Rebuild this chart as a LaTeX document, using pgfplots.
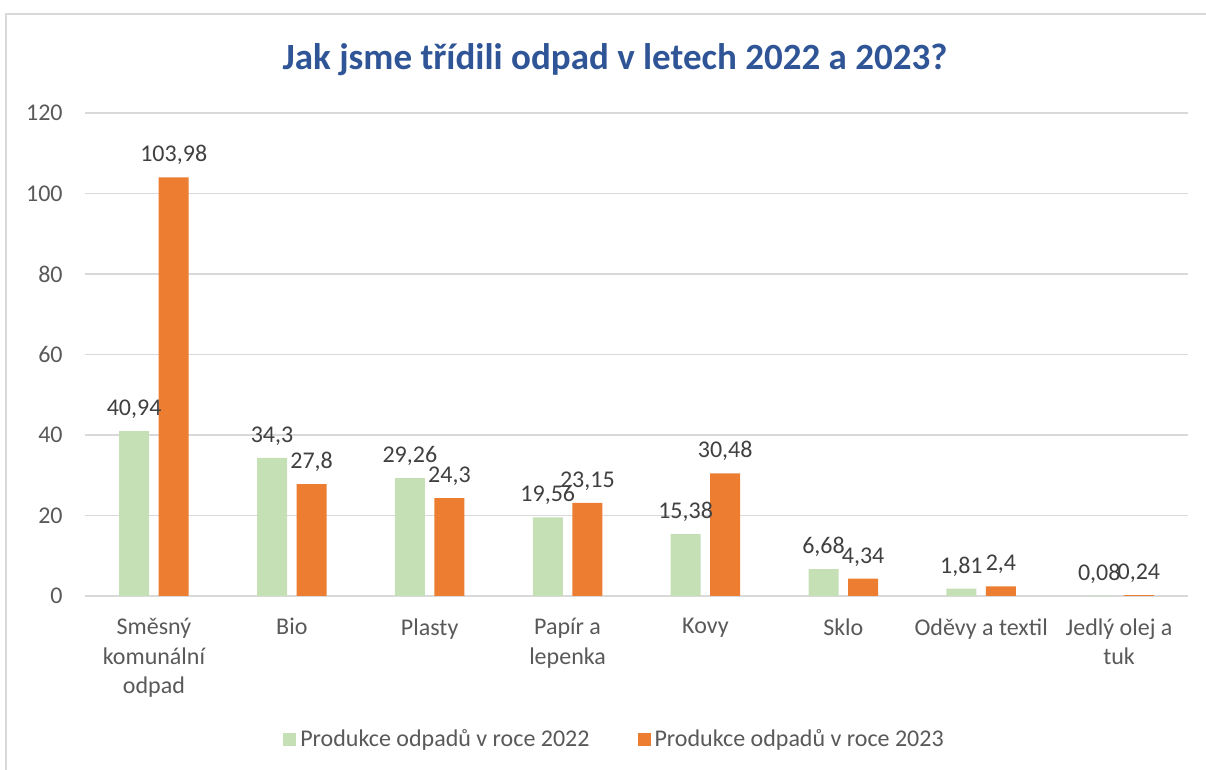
\documentclass[border=0pt]{standalone}
\usepackage{pgfplots}
\pgfplotsset{compat=1.18}
\usepackage{fontspec}
\setmainfont{Carlito}
\definecolor{cgreen}{HTML}{C5E0B4}
\definecolor{corange}{HTML}{ED7D31}
\definecolor{ctitle}{HTML}{2F5597}
\definecolor{cgrid}{HTML}{D9D9D9}
\definecolor{ctext}{HTML}{595959}
\definecolor{clabel}{HTML}{404040}
\begin{document}
\begin{tikzpicture}
\useasboundingbox (0,0) rectangle (603pt,385pt);
\draw[cgrid, line width=1pt] (3pt,0) -- (3pt,378pt) -- (603pt,378pt);
\node[font=\fontsize{18.5}{22}\selectfont\bfseries, text=ctitle] at (307.5pt,355pt) {Jak jsme třídili odpad v letech 2022 a 2023?};
\begin{axis}[
  at={(42.5pt,87pt)}, anchor=south west,
  scale only axis,
  width=551.5pt, height=241.5pt,
  xmin=-0.5, xmax=7.5, ymin=0, ymax=120,
  ytick={0,20,...,120},
  xtick={0,...,7},
  xticklabels={{Směsný\\komunální\\odpad},Bio,Plasty,{Papír a\\lepenka},Kovy,Sklo,{Oděvy a textil},{Jedlý olej a\\tuk}},
  axis line style={draw=none},
  ymajorgrids, grid style={cgrid, line width=0.8pt},
  major tick length=0pt,
  tick label style={font=\fontsize{12}{14.8}\selectfont, text=ctext},
  xticklabel style={align=center, inner sep=0pt, yshift=-11pt},
  yticklabel style={inner sep=0pt, xshift=-11pt},
  /pgf/number format/assume math mode=true,
  ybar, bar width=15pt,
  nodes near coords,
  every node near coord/.append style={font=\fontsize{12}{14.5}\selectfont, text=clabel, inner sep=0pt, anchor=south, yshift=6pt, /pgf/number format/.cd, fixed, precision=2, use comma, assume math mode=true},
  legend style={at={(0.481,-0.298)}, anchor=center, draw=none, legend columns=2, font=\fontsize{12}{14.5}\selectfont, text=ctext, /tikz/every even column/.append style={column sep=22pt}},
  legend image code/.code={\fill[#1] (0pt,-3.25pt) rectangle (6.5pt,3.25pt);},
]
\addplot[fill=cgreen, draw=none, bar shift=-9.9pt] coordinates {(0,40.94) (1,34.3) (2,29.26) (3,19.56) (4,15.38) (5,6.68) (6,1.81) (7,0.08)};
\addplot[fill=corange, draw=none, bar shift=9.9pt] coordinates {(0,103.98) (1,27.8) (2,24.3) (3,23.15) (4,30.48) (5,4.34) (6,2.4) (7,0.24)};
\legend{Produkce odpadů v roce 2022, Produkce odpadů v roce 2023}
\end{axis}
\end{tikzpicture}
\end{document}
